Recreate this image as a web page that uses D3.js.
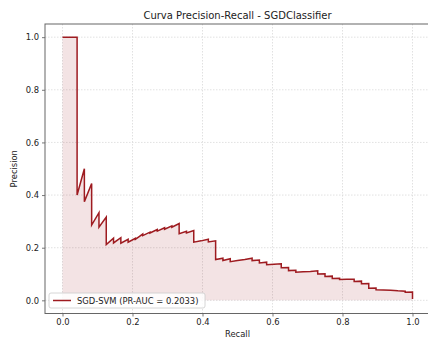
<!DOCTYPE html>
<html>
<head>
<meta charset="utf-8">
<script src="https://cdn.jsdelivr.net/npm/d3@7/dist/d3.min.js"></script>
<style>
  html, body { margin: 0; padding: 0; background: #fff; }
  svg { display: block; font-family: "DejaVu Sans", sans-serif; }
</style>
</head>
<body>
<svg id="chart" width="428" height="338"></svg>
<script>
// Precision-recall curve vertices (recall, precision), in plotting order
const recall = [
  0, 0.0417, 0.0417, 0.0625, 0.0625, 0.0833, 0.0833, 0.1042, 0.1042, 0.125,
  0.125, 0.1458, 0.1458, 0.1667, 0.1667, 0.1875, 0.1875, 0.2083, 0.2083, 0.2292,
  0.2292, 0.25, 0.25, 0.2708, 0.2708, 0.2917, 0.2917, 0.3125, 0.3125, 0.3333,
  0.3333, 0.3542, 0.3542, 0.375, 0.375, 0.3958, 0.4167, 0.4167, 0.4375, 0.4375,
  0.4583, 0.4583, 0.4792, 0.4792, 0.5, 0.5208, 0.5417, 0.5417, 0.5625, 0.5625,
  0.5833, 0.5833, 0.6042, 0.625, 0.625, 0.6458, 0.6458, 0.6667, 0.6667, 0.6875,
  0.7083, 0.7292, 0.7292, 0.75, 0.75, 0.7708, 0.7708, 0.7917, 0.7917, 0.8125,
  0.8333, 0.8333, 0.8542, 0.8542, 0.875, 0.875, 0.8958, 0.8958, 0.9167, 0.9375,
  0.9583, 0.9792, 0.9792, 1.0, 1.0
];
const precision = [
  1.0, 1.0, 0.40, 0.50, 0.375, 0.444, 0.286, 0.333, 0.278, 0.316,
  0.212, 0.236, 0.218, 0.238, 0.217, 0.232, 0.221, 0.236, 0.232, 0.252,
  0.246, 0.259, 0.256, 0.269, 0.263, 0.276, 0.27, 0.283, 0.278, 0.292,
  0.253, 0.262, 0.256, 0.265, 0.221, 0.226, 0.232, 0.222, 0.226, 0.155,
  0.160, 0.151, 0.158, 0.147, 0.151, 0.155, 0.160, 0.151, 0.153, 0.142,
  0.145, 0.135, 0.137, 0.139, 0.124, 0.125, 0.113, 0.114, 0.107, 0.109,
  0.110, 0.112, 0.100, 0.101, 0.091, 0.092, 0.083, 0.084, 0.079, 0.080,
  0.080, 0.072, 0.073, 0.063, 0.064, 0.046, 0.047, 0.040, 0.039, 0.038,
  0.036, 0.035, 0.031, 0.032, 0.005
];
const seriesName = "SGD-SVM";
const prAuc = 0.2033;
const xTicks = [0.0, 0.2, 0.4, 0.6, 0.8, 1.0];
const yTicks = [0.0, 0.2, 0.4, 0.6, 0.8, 1.0];
const titleText = "Curva Precision-Recall - SGDClassifier";
const xLabel = "Recall";
const yLabel = "Precision";

const points = recall.map((r, i) => ({ r, p: precision[i] }));

const svg = d3.select("#chart");
const plot = { left: 45, right: 430, top: 24, bottom: 313.5 };
const lineColor = "#9e1b20";

const x = d3.scaleLinear().domain([-0.05, 1.05]).range([plot.left, plot.right]);
const y = d3.scaleLinear().domain([-0.05, 1.05]).range([plot.bottom, plot.top]);

// Grid
const grid = svg.append("g").attr("stroke", "#d9d9d9").attr("stroke-width", 0.8)
  .attr("stroke-dasharray", "1.5,1.5");
grid.selectAll("line.gx").data(xTicks).join("line")
  .attr("x1", d => x(d)).attr("x2", d => x(d))
  .attr("y1", plot.top).attr("y2", plot.bottom);
grid.selectAll("line.gy").data(yTicks).join("line")
  .attr("y1", d => y(d)).attr("y2", d => y(d))
  .attr("x1", plot.left).attr("x2", plot.right);

// Area under the curve
const area = d3.area().x(d => x(d.r)).y0(y(0)).y1(d => y(d.p));
svg.append("path").datum(points).attr("d", area)
  .attr("fill", lineColor).attr("fill-opacity", 0.12);

// Curve
const line = d3.line().x(d => x(d.r)).y(d => y(d.p));
svg.append("path").datum(points).attr("d", line)
  .attr("fill", "none").attr("stroke", lineColor).attr("stroke-width", 1.5)
  .attr("stroke-linejoin", "miter");

// Axes
const xAxis = d3.axisBottom(x).tickValues(xTicks).tickFormat(d3.format(".1f"))
  .tickSize(3).tickPadding(3);
const yAxis = d3.axisLeft(y).tickValues(yTicks).tickFormat(d3.format(".1f"))
  .tickSize(3).tickPadding(3);

const gx = svg.append("g").attr("transform", `translate(0,${plot.bottom})`).call(xAxis);
const gy = svg.append("g").attr("transform", `translate(${plot.left},0)`).call(yAxis);
[gx, gy].forEach(g => {
  g.select(".domain").remove();
  g.selectAll(".tick line").attr("stroke", "#555").attr("stroke-width", 0.8);
  g.selectAll(".tick text").attr("fill", "#222").attr("font-size", 8.4)
    .attr("font-family", "DejaVu Sans, sans-serif");
});

// Frame
svg.append("rect")
  .attr("x", plot.left).attr("y", plot.top)
  .attr("width", plot.right - plot.left).attr("height", plot.bottom - plot.top)
  .attr("fill", "none").attr("stroke", "#666").attr("stroke-width", 1);

// Title and axis labels
svg.append("text").attr("x", (plot.left + plot.right) / 2).attr("y", 19)
  .attr("text-anchor", "middle").attr("font-size", 10).attr("fill", "#222")
  .text(titleText);
svg.append("text").attr("x", (plot.left + plot.right) / 2).attr("y", 337)
  .attr("text-anchor", "middle").attr("font-size", 8.4).attr("fill", "#222")
  .text(xLabel);
svg.append("text")
  .attr("transform", `translate(17,${(plot.top + plot.bottom) / 2}) rotate(-90)`)
  .attr("text-anchor", "middle").attr("font-size", 8.4).attr("fill", "#222")
  .text(yLabel);

// Legend
const lg = svg.append("g").attr("transform", "translate(49,293)");
lg.append("rect").attr("width", 156).attr("height", 15).attr("rx", 2)
  .attr("fill", "#fff").attr("fill-opacity", 0.85)
  .attr("stroke", "#cccccc").attr("stroke-width", 0.8);
lg.append("line").attr("x1", 4).attr("x2", 22).attr("y1", 7.5).attr("y2", 7.5)
  .attr("stroke", lineColor).attr("stroke-width", 1.5);
lg.append("text").attr("x", 28).attr("y", 10.7).attr("font-size", 8.4).attr("fill", "#222")
  .text(`${seriesName} (PR-AUC = ${prAuc.toFixed(4)})`);
</script>
</body>
</html>
